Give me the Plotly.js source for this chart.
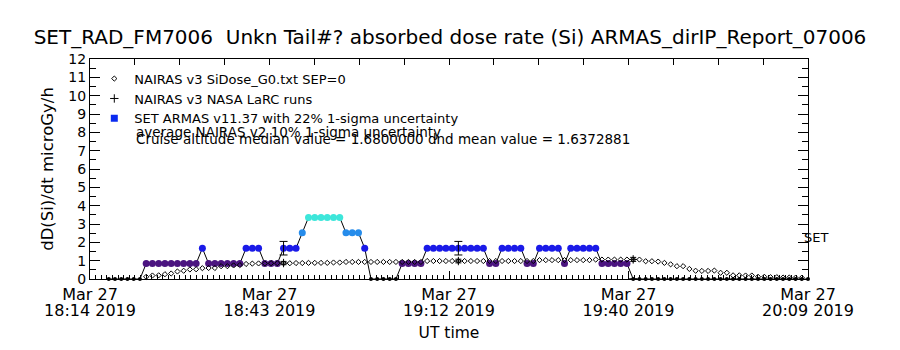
<!DOCTYPE html>
<html><head><meta charset="utf-8">
<script src="https://cdn.plot.ly/plotly-3.0.1.min.js"></script>
<style>html,body{margin:0;padding:0;background:#fff}#chart{width:900px;height:350px}</style>
</head><body><div id="chart"></div>
<script>
// ---------------- data ----------------
const setStartTime = '2019-03-27 18:17:00';   // 1-minute cadence
const setValues = [
  0,0,0,0,0,0,
  0.84,0.84,0.84,0.84,0.84,0.84,0.84,0.84,0.84,
  1.68,
  0.84,0.84,0.84,0.84,0.84,0.84,
  1.68,1.68,1.68,
  0.84,0.84,0.84,
  1.68,1.68,1.68,
  2.52,
  3.36,3.36,3.36,3.36,3.36,3.36,
  2.52,2.52,2.52,
  1.68,
  0,0,0,0,0,
  0.84,0.84,0.84,0.84,
  1.68,1.68,1.68,1.68,1.68,1.68,1.68,1.68,1.68,1.68,
  0.84,0.84,
  1.68,1.68,1.68,1.68,
  0.84,0.84,
  1.68,1.68,1.68,1.68,
  0.84,
  1.68,1.68,1.68,1.68,1.68,
  0.84,0.84,0.84,0.84,0.84,
  0,0,0,0,0,0,0,0,0,0,0,0,0,0,0,0,0,0,0,0,0,0,0,0,0,0,0,0,0
];
const nairasStartTime = '2019-03-27 18:23:00'; // 1-minute cadence
const nairasValues = [
  0.12,0.19,0.20,0.26,0.30,0.41,0.45,0.52,0.53,0.59,0.60,0.60,0.70,0.70,0.74,0.76,
  0.82,0.84,0.85,0.85,0.86,0.86,0.86,0.86,0.87,0.87,0.88,0.88,0.88,0.88,0.90,0.90,
  0.93,0.93,0.93,0.93,0.93,0.93,0.93,0.93,0.93,0.93,0.93,0.93,0.93,
  0.98,0.98,0.98,0.98,0.98,0.98,0.98,0.98,0.98,0.98,0.98,0.98,0.98,0.98,0.98,0.98,0.98,0.98,
  1.03,1.03,1.03,1.03,1.03,1.03,1.03,1.03,1.03,
  1.06,1.06,1.06,1.06,1.06,1.06,1.06,1.06,
  0.97,0.97,0.95,0.88,0.80,0.70,0.70,0.55,0.45,0.44,0.44,0.46,0.34,0.34,
  0.20,0.20,0.19,0.19,0.12,0.12,0.10,0.10,0.08,0.08,0.07,0.07
];
const larcTimes = ['2019-03-27 18:45:00','2019-03-27 19:13:00','2019-03-27 19:41:00'];
const larcValues = [0.87, 0.98, 1.07];
const larcErr = [0.09, 0.10, 0.11];
const setAtLarc = [1.68, 1.68, 0];
const setErrAtLarc = [0.37, 0.37, 0];

const xRange = ['2019-03-27 18:14:00', '2019-03-27 20:09:00'];
const tickTimes = ['2019-03-27 18:14:00','2019-03-27 18:42:45','2019-03-27 19:11:30','2019-03-27 19:40:15','2019-03-27 20:09:00'];
const tickDateText = ['Mar 27','Mar 27','Mar 27','Mar 27','Mar 27'];
const tickClockText = ['18:14 2019','18:43 2019','19:12 2019','19:40 2019','20:09 2019'];

const titleText = 'SET_RAD_FM7006  Unkn Tail#? absorbed dose rate (Si) ARMAS_dirIP_Report_07006';
const legendNames = ['NAIRAS v3 SiDose_G0.txt SEP=0', 'NAIRAS v3 NASA LaRC runs', 'SET ARMAS v11.37 with 22% 1-sigma uncertainty'];
const noteLines = ['average NAIRAS v2 10% 1-sigma uncertainty', 'Cruise altitude median value = 1.6800000 dnd mean value = 1.6372881'];

// ---------------- helpers ----------------
const ms = s => Date.parse(s.replace(' ', 'T') + 'Z');
const MIN = 60000;
const setX = setValues.map((_, i) => ms(setStartTime) + i * MIN);
const nairasX = nairasValues.map((_, i) => ms(nairasStartTime) + i * MIN);
const larcX = larcTimes.map(ms);
const tickX = tickTimes.map(ms);
const r0 = ms(xRange[0]), r1 = ms(xRange[1]);

const FONT = 'DejaVu Sans, Verdana, sans-serif';
const PURPLE = '#4b1480', BLUE = '#1a1ae8', LBLUE = '#268ceb', CYAN = '#3de6da';

const traces = [
  { // SET ARMAS measurements
    x: setX, y: setValues, type: 'scatter', mode: 'lines+markers',
    line: { color: '#000', width: 1 },
    marker: {
      color: setValues, cmin: 0, cmax: 3.36, opacity: 1,
      colorscale: [[0, '#000000'], [0.1, '#000000'], [0.25, PURPLE], [0.5, BLUE], [0.75, LBLUE], [1, CYAN]],
      size: setValues.map(v => v > 0 ? 7 : 4), line: { width: 0 }
    },
    cliponaxis: false, showlegend: false, hoverinfo: 'x+y'
  },
  { // SET 22% uncertainty bars
    x: larcX, y: setAtLarc, type: 'scatter', mode: 'markers',
    marker: { size: 1, color: 'rgba(0,0,0,0)' },
    error_y: { type: 'data', array: setErrAtLarc, visible: true, color: '#000', thickness: 1, width: 4 },
    cliponaxis: false, showlegend: false
  },
  { // NAIRAS SiDose
    x: nairasX, y: nairasValues, type: 'scatter', mode: 'markers', name: legendNames[0],
    marker: { symbol: 'diamond-open', size: 4, color: '#000', opacity: 1, line: { width: 1, color: '#000' } },
    cliponaxis: false, legendrank: 1
  },
  { // NAIRAS LaRC runs
    x: larcX, y: larcValues, type: 'scatter', mode: 'markers', name: legendNames[1],
    marker: { symbol: 'cross-thin-open', size: 6, color: '#000', line: { width: 1, color: '#000' } },
    error_y: { type: 'data', array: larcErr, visible: true, color: '#000', thickness: 1, width: 3 },
    cliponaxis: false, legendrank: 2
  },
  { // legend entry for SET
    x: [null], y: [null], type: 'scatter', mode: 'markers', name: legendNames[2],
    marker: { symbol: 'square', size: 7, color: '#0a2af0', opacity: 1 }, legendrank: 3
  },
  { // carrier for top axis ticks
    x: [null], y: [null], xaxis: 'x2', yaxis: 'y', type: 'scatter', mode: 'markers', showlegend: false, hoverinfo: 'skip'
  },
  { // carrier for second tick-label row
    x: [null], y: [null], xaxis: 'x3', yaxis: 'y', type: 'scatter', mode: 'markers', showlegend: false, hoverinfo: 'skip'
  }
];

const layout = {
  width: 900, height: 350,
  paper_bgcolor: '#fff', plot_bgcolor: '#fff',
  margin: { l: 90, r: 92, t: 59, b: 71 },
  font: { family: FONT, color: '#000', size: 14 },
  title: { text: titleText, font: { family: FONT, size: 20, color: '#000' }, x: 0.5, xanchor: 'center', y: 1 - 37 / 350, yanchor: 'middle' },
  showlegend: true,
  legend: { x: 0.006, y: 0.979, xanchor: 'left', yanchor: 'top', bgcolor: 'rgba(0,0,0,0)', font: { family: FONT, size: 13 }, traceorder: 'normal' },
  xaxis: {
    type: 'date', range: [r0, r1], showgrid: false, zeroline: false,
    showline: true, linecolor: '#000', linewidth: 1, mirror: true,
    tickmode: 'array', tickvals: tickX, ticktext: tickDateText,
    ticks: 'inside', ticklen: 8, tickcolor: '#000', tickwidth: 1,
    minor: { ticks: 'inside', ticklen: 4, tickcolor: '#000', tick0: r0, dtick: (r1 - r0) / 128, showgrid: false },
    tickfont: { family: FONT, size: 16 }, ticklabelstandoff: 1
  },
  xaxis2: {
    type: 'date', range: [r0, r1], overlaying: 'x', side: 'top', anchor: 'y',
    showgrid: false, zeroline: false, showline: false, showticklabels: false,
    tickmode: 'linear', tick0: r0, dtick: (r1 - r0) / 16,
    ticks: 'inside', ticklen: 6, tickcolor: '#000'
  },
  xaxis3: {
    type: 'date', range: [r0, r1], overlaying: 'x', side: 'bottom', anchor: 'y',
    showgrid: false, zeroline: false, showline: false, ticks: '',
    tickmode: 'array', tickvals: tickX, ticktext: tickClockText,
    tickfont: { family: FONT, size: 16 }, ticklabelstandoff: 20,
    title: { text: 'UT time', font: { family: FONT, size: 15.5 }, standoff: 8 }
  },
  yaxis: {
    range: [0, 12], showgrid: false, zeroline: false,
    showline: true, linecolor: '#000', linewidth: 1, mirror: 'ticks',
    tickmode: 'linear', tick0: 0, dtick: 1,
    ticks: 'inside', ticklen: 10, tickcolor: '#000',
    minor: { ticks: 'inside', ticklen: 6, tickcolor: '#000', dtick: 0.5, showgrid: false },
    tickfont: { family: FONT, size: 14 },
    title: { text: 'dD(Si)/dt microGy/h', font: { family: FONT, size: 16.5 }, standoff: 10 }
  },
  annotations: [
    { text: noteLines[0], xref: 'paper', yref: 'paper', x: (134 - 90) / 718, y: (279 - 132) / 220, xanchor: 'left', yanchor: 'middle', showarrow: false, font: { family: FONT, size: 13.5 } },
    { text: noteLines[1], xref: 'paper', yref: 'paper', x: (134 - 90) / 718, y: (279 - 139) / 220, xanchor: 'left', yanchor: 'middle', showarrow: false, font: { family: FONT, size: 13.5 } },
    { text: 'SET', xref: 'paper', yref: 'paper', x: (802 - 90) / 718, y: (279 - 237) / 220, xanchor: 'left', yanchor: 'middle', showarrow: false, font: { family: FONT, size: 13 } }
  ]
};

Plotly.newPlot('chart', traces, layout, { displayModeBar: false, staticPlot: true });
</script>
</body></html>
